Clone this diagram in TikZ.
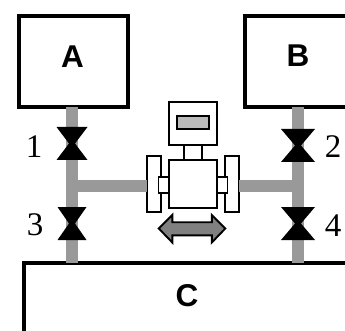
\documentclass[tikz,border=0pt]{standalone}
\usepackage{fontspec}
\setmainfont{Liberation Serif}
\newfontfamily\labelsans{Liberation Sans}
\definecolor{pipegrey}{HTML}{999999}
\definecolor{dispgrey}{HTML}{BBBBBB}
\definecolor{arrowgrey}{HTML}{808080}
\tikzset{
  vessel/.style={draw=black,line width=4pt,fill=white,inner sep=0pt,outer sep=0pt},
  part/.style={draw=black,line width=1.9pt,fill=white,inner sep=0pt,outer sep=0pt},
  pipe/.style={draw=pipegrey,line width=12pt},
  vesseltext/.style={font=\labelsans\bfseries\fontsize{31.5}{32}\selectfont,inner sep=0pt},
  numtext/.style={font=\fontsize{33}{33}\selectfont,inner sep=0pt},
  pics/hourglass/.style={code={
    \fill[black] (-#1,-16.5) -- (#1,-16.5) -- (3,0) -- (#1,16.5) -- (-#1,16.5) -- (-3,0) -- cycle;
  }}
}
\begin{document}
\begin{tikzpicture}[x=1pt,y=-1pt]
\useasboundingbox (0,0) rectangle (345,331);
\clip (0,0) rectangle (345,331);
\fill[white] (0,0) rectangle (345,331);
% vessels
\node[vessel,minimum width=109pt,minimum height=91pt] (A) at (73.5,61.5) {};
\node[vessel,minimum width=120pt,minimum height=91pt] (B) at (305,61.5) {};
\node[vessel,minimum width=340pt,minimum height=100pt] (C) at (194,313) {};
% valve positions and junctions
\coordinate (v1) at (72,143.5);
\coordinate (v3) at (72,223.5);
\coordinate (v2) at (298,145.5);
\coordinate (v4) at (298,223.5);
\coordinate (jl) at (72,186);
\coordinate (jr) at (298,186);
% transmitter
\node[part,minimum width=14pt,minimum height=56pt] (fl) at (153.7,184) {};
\node[part,minimum width=14pt,minimum height=56pt] (fr) at (231.8,184) {};
% pipes
\draw[pipe] (A.south -| v1) -- (C.north -| v1);
\draw[pipe] (B.south -| v2) -- (C.north -| v2);
\draw[pipe] (jl) -- (fl.west |- jl);
\draw[pipe] (jr) -- (fr.east |- jr);
\node[part,minimum width=11pt,minimum height=16.5pt] (cl) at (164,185) {};
\node[part,minimum width=11pt,minimum height=16.5pt] (cr) at (222,185) {};
\node[part,minimum width=47.4pt,minimum height=48pt] (body) at (193,184) {};
\node[part,minimum width=17.4pt,minimum height=15pt] (neck) at (193,152.5) {};
\node[part,minimum width=47.4pt,minimum height=43.3pt] (head) at (193,123.3) {};
\node[part,line width=2.2pt,fill=dispgrey,minimum width=32pt,minimum height=13pt] (disp) at (193,122.7) {};
% double arrow
\coordinate (arr) at (192.3,228.5);
\draw[line width=1.9pt,fill=arrowgrey,line join=miter] ([shift={(-33.5,0)}]arr) -- ++(13.5,-13.5) -- ++(0,7.2) -- ++(39.5,0) -- ++(0,-7.2) -- ++(13.5,13.5) -- ++(-13.5,14) -- ++(0,-7.2) -- ++(-39.5,0) -- ++(0,7.2) -- cycle;
% valves
\pic at (v1) {hourglass=15.5};
\pic at (v3) {hourglass=14.5};
\pic at (v2) {hourglass=17};
\pic at (v4) {hourglass=17};
% text
\node[vesseltext] (tA) at (72.5,56.5) {A};
\node[vesseltext] (tB) at (298,55.5) {B};
\node[vesseltext] (tC) at (187,296) {C};
\node[numtext] (n1) at (34,147) {1};
\node[numtext] (n3) at (35,225) {3};
\node[numtext] (n2) at (333,147) {2};
\node[numtext] (n4) at (333,226) {4};
\end{tikzpicture}
\end{document}
